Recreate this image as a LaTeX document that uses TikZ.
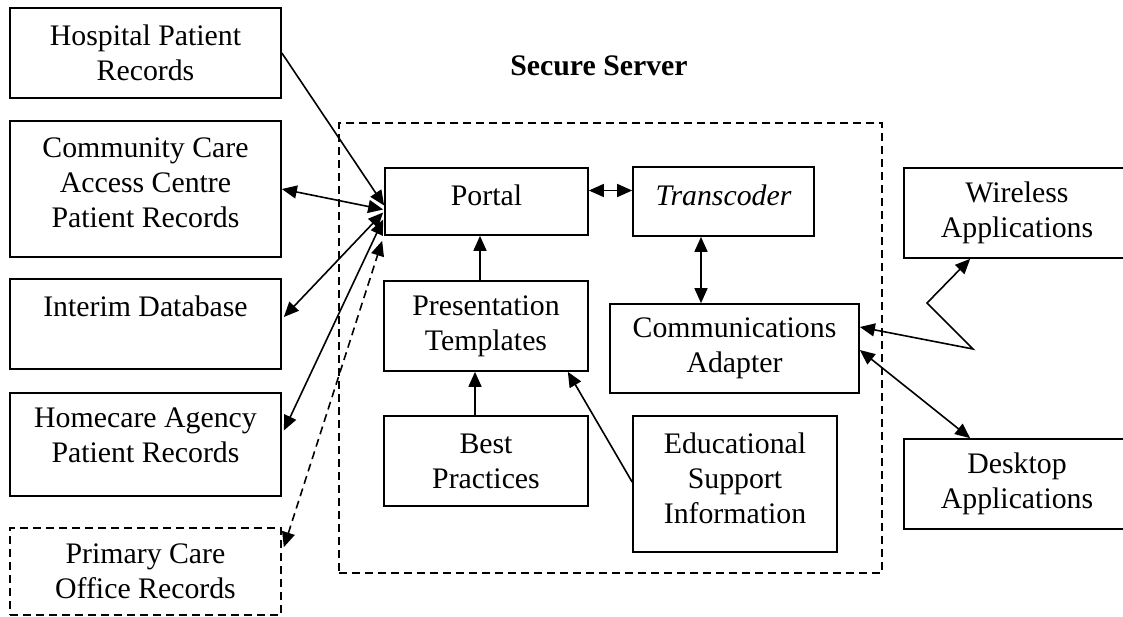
\documentclass[tikz,border=0pt]{standalone}
\usepackage{fontspec}
\setmainfont{Liberation Serif}
\usetikzlibrary{arrows.meta,calc}
\begin{document}
\begin{tikzpicture}[x=1pt,y=-1pt,
  txt/.style={font=\fontsize{29.8}{35}\selectfont},
  box/.style={txt, draw, line width=1.7pt, inner sep=0pt, align=center},
  dbox/.style={box, dash pattern=on 8pt off 5pt},
  arr/.style={line width=1.6pt, -{Triangle[length=15pt,width=13pt]}},
  darr/.style={line width=1.6pt, {Triangle[length=15pt,width=13pt]}-{Triangle[length=15pt,width=13pt]}},
  ddarr/.style={darr, dash pattern=on 8pt off 5pt},
]
\useasboundingbox (0,0) rectangle (1123,616);

% Secure server container
\node[dbox, minimum width=543pt, minimum height=450pt] (server) at (610.5,348) {};
\node[txt, font=\bfseries\fontsize{29.8}{35}\selectfont, inner sep=0pt] (title) at (599,66) {Secure Server};

% left sources
\node[box, minimum width=271pt, minimum height=90pt] (hosp) at (145.5,53) {Hospital Patient\\Records};
\node[box, minimum width=271pt, minimum height=136pt, text depth=12pt] (ccac) at (145.5,189) {Community Care\\Access Centre\\Patient Records};
\node[box, minimum width=271pt, minimum height=90pt] (interim) at (145.5,324) {Interim Database\\\mbox{}};
\node[box, minimum width=271pt, minimum height=103pt, text depth=18pt] (home) at (145.5,444.5) {Homecare Agency\\Patient Records};
\node[dbox, minimum width=271pt, minimum height=87pt] (primary) at (145.5,571.5) {Primary Care\\Office Records};

% server contents
\node[box, minimum width=203pt, minimum height=67pt, text depth=13pt] (portal) at (486.5,201.5) {Portal};
\node[box, minimum width=181pt, minimum height=69pt, text depth=13pt] (trans) at (723.5,201.5) {\itshape Transcoder};
\node[box, minimum width=204pt, minimum height=90pt] (pres) at (486,326) {Presentation\\Templates};
\node[box, minimum width=204pt, minimum height=90pt] (best) at (486,461) {Best\\Practices};
\node[box, minimum width=204pt, minimum height=136pt, text depth=12pt] (edu) at (735,484) {Educational\\Support\\Information};
\node[box, minimum width=249pt, minimum height=89pt] (cadapt) at (734.5,348.5) {Communications\\Adapter};

% right side
\node[box, minimum width=226pt, minimum height=90pt] (wire) at (1017,213) {Wireless\\Applications};
\node[box, minimum width=226pt, minimum height=90pt] (desk) at (1017,484) {Desktop\\Applications};

% connectors to portal
\draw[arr] (hosp.east) -- ($(portal.west)+(0,4)$);
\draw[darr] (ccac.east) -- ($(portal.west)+(-1,8)$);
\draw[darr] ($(interim.east)+(2,-7)$) -- ($(portal.west)+(-1,11)$);
\draw[darr] ($(home.east)+(2,-14)$) -- ($(portal.west)+(-1,18)$);
\draw[ddarr] ($(primary.north east)+(2,20)$) -- ($(portal.south west)+(-2,5)$);

% internal
\draw[darr] ($(portal.east)+(0,-11)$) -- ($(trans.west)+(0,-11)$);
\draw[arr] ($(pres.north)+(-6,0)$) -- ($(portal.south)+(-6.5,0)$);
\draw[arr] ($(best.north)+(-11,0)$) -- ($(pres.south)+(-11,0)$);
\draw[arr] ($(edu.west)+(0,-2)$) -- ($(pres.south east)+(-21,0)$);
\draw[darr] ($(trans.south)+(-22.5,0)$) -- ($(cadapt.north)+(-33.5,0)$);

% wireless lightning link
\coordinate (z1) at (973,349);
\coordinate (z2) at (927,303);
\draw[darr] ($(cadapt.east)+(0,-21.5)$) -- (z1) -- (z2) -- ($(wire.south west)+(67,0)$);
\draw[darr] ($(cadapt.east)+(0,1.5)$) -- ($(desk.north west)+(67,0)$);
\end{tikzpicture}
\end{document}
